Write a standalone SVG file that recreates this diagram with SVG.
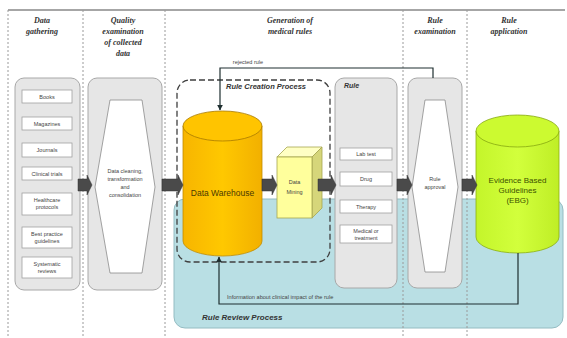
<svg xmlns="http://www.w3.org/2000/svg" width="567" height="338" viewBox="0 0 567 338">
<defs>
<style>
.hdr{font-family:"Liberation Serif",serif;font-style:italic;font-weight:bold;font-size:8px;fill:#333;text-anchor:middle}
.t{font-family:"Liberation Sans",Arial,sans-serif;font-size:5.5px;fill:#444;text-anchor:middle}
.lbl{font-family:"Liberation Sans",Arial,sans-serif;font-style:italic;font-weight:bold;fill:#333}
.div{stroke:#9a9a9a;stroke-width:1;stroke-dasharray:2,2;fill:none}
.gbox{fill:#e6e6e6;stroke:#a8a8a8;stroke-width:1}
.item{fill:#fff;stroke:#a0a0a0;stroke-width:0.8}
.hex{fill:#fff;stroke:#8c8c8c;stroke-width:0.8}
.blk{fill:#4a4a4a;stroke:#333;stroke-width:0.5}
.con{fill:none;stroke:#1f2f30;stroke-width:1.2}
</style>
<marker id="ah" viewBox="0 0 10 10" refX="9" refY="5" markerWidth="5" markerHeight="5" orient="auto">
<path d="M0,0 L10,5 L0,10 Z" fill="#1f2f30"/>
</marker>
<linearGradient id="dwg" x1="0" y1="0" x2="1" y2="0">
<stop offset="0" stop-color="#f7b500"/>
<stop offset="0.5" stop-color="#ffc800"/>
<stop offset="1" stop-color="#f2b000"/>
</linearGradient>
<linearGradient id="ebg" x1="0" y1="0" x2="1" y2="0">
<stop offset="0" stop-color="#c4f52a"/>
<stop offset="0.5" stop-color="#d2ff3c"/>
<stop offset="1" stop-color="#bfee26"/>
</linearGradient>
</defs>
<rect x="0" y="0" width="567" height="338" fill="#fff"/>

<g id="frame">
<line x1="8" y1="10" x2="565" y2="10" stroke="#a6a6a6" stroke-width="2"/>
</g>

<g id="rule-review-process">
<rect x="174" y="199" width="389" height="129" rx="11" fill="#b9dfe4" stroke="#94bcc2" stroke-width="1"/>
<text class="lbl" x="202" y="320" font-size="8">Rule Review Process</text>
</g>

<g id="dividers">
<line class="div" x1="8" y1="10" x2="8" y2="338"/>
<line class="div" x1="83" y1="10" x2="83" y2="338"/>
<line class="div" x1="165" y1="10" x2="165" y2="338"/>
<line class="div" x1="403" y1="10" x2="403" y2="338"/>
<line class="div" x1="467" y1="10" x2="467" y2="338"/>
</g>

<g id="headers">
<text class="hdr" x="42" y="23">Data</text>
<text class="hdr" x="42" y="34">gathering</text>
<text class="hdr" x="123" y="23">Quality</text>
<text class="hdr" x="123" y="34">examination</text>
<text class="hdr" x="123" y="45">of collected</text>
<text class="hdr" x="123" y="56">data</text>
<text class="hdr" x="290" y="23">Generation of</text>
<text class="hdr" x="290" y="34">medical rules</text>
<text class="hdr" x="435" y="23">Rule</text>
<text class="hdr" x="435" y="34">examination</text>
<text class="hdr" x="509" y="23">Rule</text>
<text class="hdr" x="509" y="34">application</text>
</g>

<g id="data-gathering">
<rect class="gbox" x="15" y="78" width="65" height="212" rx="9"/>
<rect class="item" x="22" y="90" width="50" height="13"/>
<text class="t" x="47" y="98.5">Books</text>
<rect class="item" x="22" y="117" width="50" height="13"/>
<text class="t" x="47" y="125.5">Magazines</text>
<rect class="item" x="22" y="143" width="50" height="14"/>
<text class="t" x="47" y="152">Journals</text>
<rect class="item" x="22" y="167" width="50" height="13"/>
<text class="t" x="47" y="175.5">Clinical trials</text>
<rect class="item" x="22" y="193" width="50" height="22"/>
<text class="t" x="47" y="202">Healthcare</text>
<text class="t" x="47" y="209">protocols</text>
<rect class="item" x="22" y="227" width="50" height="21"/>
<text class="t" x="47" y="236">Best practice</text>
<text class="t" x="47" y="243">guidelines</text>
<rect class="item" x="22" y="257" width="50" height="21"/>
<text class="t" x="47" y="266">Systematic</text>
<text class="t" x="47" y="273">reviews</text>
</g>

<g id="quality-examination">
<rect class="gbox" x="88" y="78" width="74" height="212" rx="9"/>
<polygon class="hex" points="110,100 142,100 155,187 142,273 110,273 95,187"/>
<text class="t" x="125" y="173" font-size="6">Data cleaning,</text>
<text class="t" x="125" y="181" font-size="6">transformation</text>
<text class="t" x="125" y="189" font-size="6">and</text>
<text class="t" x="125" y="197" font-size="6">consolidation</text>
</g>

<g id="data-warehouse">
<path d="M183,126 V241 A39.5,15 0 0 0 262,241 V126 Z" fill="url(#dwg)" stroke="#c08c00" stroke-width="0.8"/>
<ellipse cx="222.5" cy="126" rx="39.5" ry="15" fill="#ffc400" stroke="#a87a00" stroke-width="0.8"/>
<text x="222.5" y="196" font-family="Liberation Sans, Arial, sans-serif" font-size="8.5" fill="#4a3a00" text-anchor="middle">Data Warehouse</text>
</g>

<g id="data-mining">
<polygon points="277,157 287,147 322,147 312,157" fill="#ffffc4" stroke="#a6a650" stroke-width="0.8"/>
<polygon points="312,157 322,147 322,208 312,218" fill="#d6d67a" stroke="#a6a650" stroke-width="0.8"/>
<rect x="277" y="157" width="35" height="61" fill="#ffff9c" stroke="#a6a650" stroke-width="0.8"/>
<text class="t" x="294.5" y="184" font-size="6" fill="#555">Data</text>
<text class="t" x="294.5" y="194" font-size="6" fill="#555">Mining</text>
</g>

<g id="rule-creation-process">
<rect x="177" y="80" width="153" height="182" rx="13" fill="none" stroke="#3f3f3f" stroke-width="1.3" stroke-dasharray="6,3"/>
<text class="lbl" x="226" y="89" font-size="7.5">Rule Creation Process</text>
</g>

<g id="rule">
<rect class="gbox" x="335" y="78" width="62" height="210" rx="9"/>
<text class="lbl" x="344" y="88" font-size="7">Rule</text>
<rect class="item" x="340" y="148" width="52" height="12"/>
<text class="t" x="366" y="156">Lab test</text>
<rect class="item" x="340" y="172" width="52" height="14"/>
<text class="t" x="366" y="181">Drug</text>
<rect class="item" x="340" y="200" width="52" height="13"/>
<text class="t" x="366" y="208.5">Therapy</text>
<rect class="item" x="340" y="225" width="52" height="18"/>
<text class="t" x="366" y="232.5">Medical or</text>
<text class="t" x="366" y="239.5">treatment</text>
</g>

<g id="rule-examination">
<rect class="gbox" x="408" y="78" width="54" height="210" rx="9"/>
<polygon class="hex" points="425,100 445,100 458,187 445,272 425,272 412,187"/>
<text class="t" x="435" y="181">Rule</text>
<text class="t" x="435" y="189">approval</text>
</g>

<g id="evidence-based-guidelines">
<path d="M476,131 V237 A41.5,16 0 0 0 559,237 V131 Z" fill="url(#ebg)" stroke="#8cae10" stroke-width="0.8"/>
<ellipse cx="517.5" cy="131" rx="41.5" ry="16" fill="#ccfa30" stroke="#86a810" stroke-width="0.8"/>
<text x="517.5" y="183" font-family="Liberation Sans, Arial, sans-serif" font-size="8" fill="#3d5200" text-anchor="middle">Evidence Based</text>
<text x="517.5" y="193" font-family="Liberation Sans, Arial, sans-serif" font-size="8" fill="#3d5200" text-anchor="middle">Guidelines</text>
<text x="517.5" y="203" font-family="Liberation Sans, Arial, sans-serif" font-size="8" fill="#3d5200" text-anchor="middle">(EBG)</text>
</g>

<g id="connectors">
<path class="blk" d="M78,179 H87 V175 L92,185 L87,195 V191 H78 Z"/>
<path class="blk" d="M162,179 H178 V175 L183,185 L178,195 V191 H162 Z"/>
<path class="blk" d="M262,179 H272 V175 L277,185 L272,195 V191 H262 Z"/>
<path class="blk" d="M318,179 H331 V175 L336,185 L331,195 V191 H318 Z"/>
<path class="blk" d="M397,179 H407 V175 L412,185 L407,195 V191 H397 Z"/>
<path class="blk" d="M462,179 H472 V175 L477,185 L472,195 V191 H462 Z"/>
<path class="con" d="M433,78 V68 H220 V110" marker-end="url(#ah)"/>
<text class="t" x="248" y="64" font-size="5.5">rejected rule</text>
<path class="con" d="M518,253 V304 H219 V257" marker-end="url(#ah)"/>
<text x="227" y="299" font-family="Liberation Sans, Arial, sans-serif" font-size="5.6" fill="#444">Information about clinical impact of the rule</text>
</g>
</svg>
